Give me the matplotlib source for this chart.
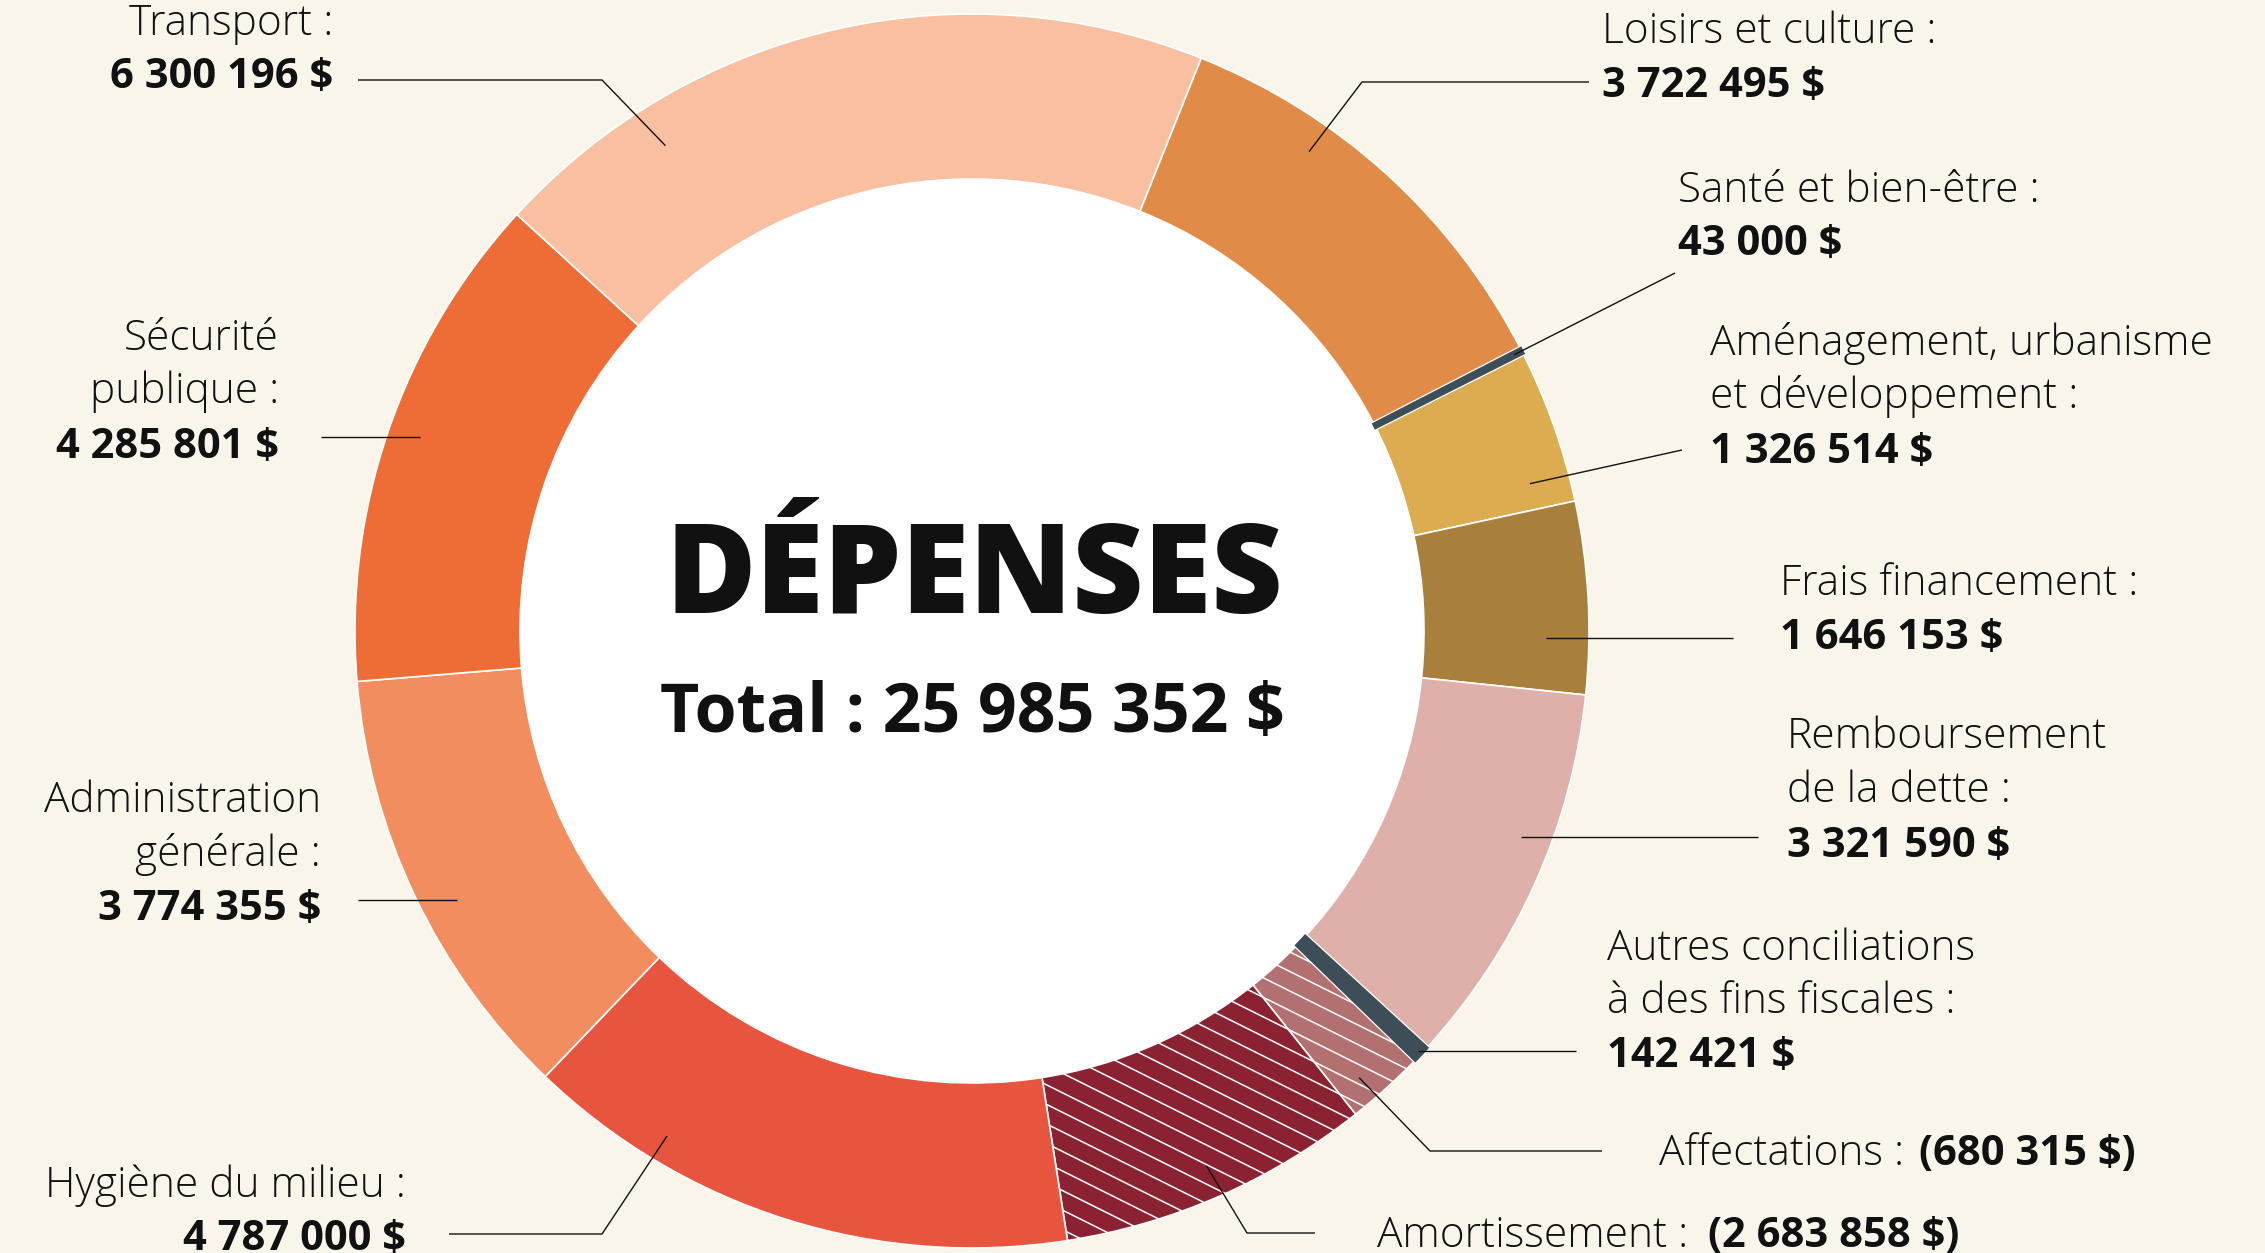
import numpy as np
import matplotlib
matplotlib.use("Agg")
import matplotlib.pyplot as plt
from matplotlib.patches import Circle
from matplotlib.collections import LineCollection
import matplotlib.patheffects as pe

# ---------------- data ----------------
categories = ["Loisirs et culture", "Santé et bien-être",
              "Aménagement, urbanisme et développement", "Frais financement",
              "Remboursement de la dette", "Autres conciliations à des fins fiscales",
              "Affectations", "Amortissement", "Hygiène du milieu",
              "Administration générale", "Sécurité publique", "Transport"]
values = [3722495, 43000, 1326514, 1646153, 3321590, 142421,
          -680315, -2683858, 4787000, 3774355, 4285801, 6300196]
label_lines = [["Loisirs et culture :"], ["Santé et bien-être :"],
               ["Aménagement, urbanisme", "et développement :"],
               ["Frais financement :"], ["Remboursement", "de la dette :"],
               ["Autres conciliations", "à des fins fiscales :"],
               ["Affectations :"], ["Amortissement :"], ["Hygiène du milieu :"],
               ["Administration", "générale :"], ["Sécurité", "publique :"],
               ["Transport :"]]
title = "DÉPENSES"
total_prefix = "Total : "

# ---------------- style ----------------
colors = ["#E08C48", "#3E4E58", "#DCAD50", "#A87F3B", "#DFB0AA", "#3E4E58",
          "#B37070", "#8A2232", "#E8553F", "#F28D60", "#EE6C36", "#F8BFA0"]
dark_idx = [1, 5]
hatch_idx = [6, 7]
BG = "#FAF5EB"
FAM = ["Open Sans", "DejaVu Sans"]
REG, BOLD = 30.5, 30

W, H = 2265, 1253
CX, CY = 972, H - 631
R_OUT, R_IN = 617, 452
START = 68.2

def Y(y):
    return H - y

def money(v):
    s = f"{abs(v):,}".replace(",", " ") + " $"
    return f"({s})" if v < 0 else s

# label layout: (ha, x, baselines in image px) ; inline -> single baseline
label_layout = [
    ("left", 1602, [43, 97]),
    ("left", 1678, [202, 255]),
    ("left", 1710, [355, 408, 463]),
    ("left", 1780, [595, 649]),
    ("left", 1787, [748, 802, 857]),
    ("left", 1607, [960, 1013, 1067]),
    ("inline", 1659, [1165]),
    ("inline", 1377, [1247]),
    ("right", 406, [1197, 1250]),
    ("right", 321, [812, 866, 920]),
    ("right", 279, [350, 403, 458]),
    ("right", 333, [35, 88]),
]
# leaders: (fraction along wedge, radius, following points in image px; None y = horizontal)
leaders = [
    (0.325, 586, [(1362, 82), (1589, 82)]),
    (0.5, 608, [(1675, 273)]),
    (0.82, 577, [(1682, 450)]),
    (0.71, 574, [(1733, None)]),
    (0.40, 586, [(1758, None)]),
    (0.5, 613, [(1576, None)]),
    (0.67, 591, [(1430, 1151), (1602, 1151)]),
    (0.5, 584, [(1247, 1233), (1315, 1233)]),
    (0.76, 590, [(602, 1234), (449, 1234)]),
    (0.45, 581, [(358, None)]),
    (0.51, 585, [(321, None)]),
    (0.22, 574, [(602, 80), (358, 80)]),
]

fig = plt.figure(figsize=(W / 100, H / 100), dpi=100)
fig.patch.set_facecolor(BG)
ax = fig.add_axes([0, 0, 1, 1])
ax.set_facecolor(BG)

ax.add_patch(Circle((CX, CY), R_IN, facecolor="white", edgecolor="none", zorder=0.5))

wedges, _ = ax.pie(np.abs(values), colors=colors, startangle=START, counterclock=False,
                   radius=R_OUT, center=(CX, CY), frame=True,
                   wedgeprops=dict(width=R_OUT - R_IN, edgecolor="white", linewidth=1.2))
for w in wedges:
    w.set_zorder(2)

# hatching for negative items
ang = np.deg2rad(-26.5)
d = np.array([np.cos(ang), np.sin(ang)])
n = np.array([-d[1], d[0]])
ctr = np.array([CX, CY])
for i in hatch_idx:
    segs = []
    for c in np.arange(-R_OUT * 1.2, R_OUT * 1.2, 17.5):
        segs.append([ctr + c * n - 1.3 * R_OUT * d, ctr + c * n + 1.3 * R_OUT * d])
    lc = LineCollection(segs, colors="white", linewidths=1.1, zorder=2.5)
    ax.add_collection(lc, autolim=False)
    lc.set_clip_path(wedges[i])

# thin dark slices
for i in dark_idx:
    w = wedges[i]
    w.set_edgecolor(colors[i])
    w.set_zorder(3)
    w.set_path_effects([pe.Stroke(linewidth=4.2, foreground="white"),
                        pe.Stroke(linewidth=2.4, foreground=colors[i]),
                        pe.Normal()])

# leader lines
for w, (frac, r, pts) in zip(wedges, leaders):
    a = np.deg2rad(w.theta2 - frac * (w.theta2 - w.theta1))
    ax0, ay0 = CX + r * np.cos(a), CY + r * np.sin(a)
    xs, ys = [ax0], [ay0]
    for (px, py) in pts:
        xs.append(px)
        ys.append(ay0 if py is None else Y(py))
    ax.plot(xs, ys, color="#111111", lw=1.0, zorder=4, solid_capstyle="butt")

# labels
fig.canvas.draw()
renderer = fig.canvas.get_renderer()
for v, lines, (ha, x, bls) in zip(values, label_lines, label_layout):
    if ha == "inline":
        t = ax.text(x, Y(bls[0]), lines[0], ha="left", va="baseline", fontsize=REG,
                    fontweight="light", family=FAM, color="#111111")
        bb = t.get_window_extent(renderer)
        x1 = ax.transData.inverted().transform((bb.x1, 0))[0]
        ax.text(x1 - 6, Y(bls[0]), money(v), ha="left", va="baseline", fontsize=BOLD,
                fontweight="bold", family=FAM, color="#111111")
    else:
        for ln, b in zip(lines, bls[:-1]):
            ax.text(x, Y(b), ln, ha=ha, va="baseline", fontsize=REG,
                    fontweight="light", family=FAM, color="#111111")
        ax.text(x, Y(bls[-1]), money(v), ha=ha, va="baseline", fontsize=BOLD,
                fontweight="bold", family=FAM, color="#111111")

# centre text
ax.text(974, Y(613), title, ha="center", va="baseline", fontsize=89,
        fontweight="heavy", family=FAM, color="#111111")
ax.text(972, Y(732), total_prefix + money(sum(values)), ha="center", va="baseline",
        fontsize=49, fontweight="bold", family=FAM, color="#111111")

ax.set_xlim(0, W)
ax.set_ylim(0, H)
ax.set_aspect("equal")
ax.set_axis_off()
fig.savefig("out.png", dpi=100, facecolor=BG)
